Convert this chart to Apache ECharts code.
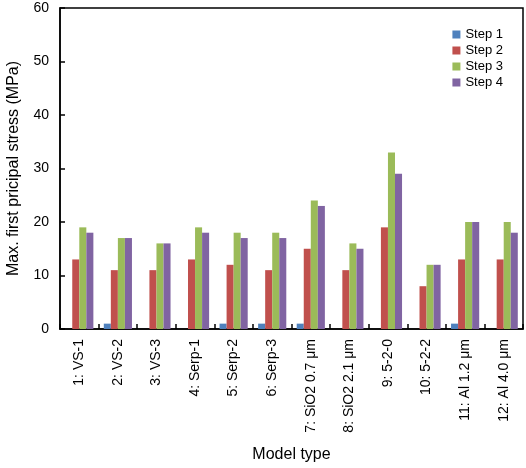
<!DOCTYPE html>
<html>
<head>
<meta charset="utf-8">
<script src="https://cdn.jsdelivr.net/npm/echarts@6/dist/echarts.min.js"></script>
<style>html,body{margin:0;padding:0;background:#fff}#c{width:526px;height:468px}</style>
</head>
<body>
<div id="c"></div>
<script>
const categories = ['1: VS-1','2: VS-2','3: VS-3','4: Serp-1','5: Serp-2','6: Serp-3','7: SiO2 0.7 μm','8: SiO2 2.1 μm','9: 5-2-0','10: 5-2-2','11: Al 1.2 μm','12: Al 4.0 μm'];
const step1 = [0, 1, 0, 0, 1, 1, 1, 0, 0, 0, 1, 0];
const step2 = [13, 11, 11, 13, 12, 11, 15, 11, 19, 8, 13, 13];
const step3 = [19, 17, 16, 19, 18, 18, 24, 16, 33, 12, 20, 20];
const step4 = [18, 17, 16, 18, 17, 17, 23, 15, 29, 12, 20, 18];
const seriesNames = ['Step 1','Step 2','Step 3','Step 4'];
const yTicks = [0, 10, 20, 30, 40, 50, 60];

const colors = ['#4F81BD','#C0504D','#9BBB59','#8064A2'];
const font = 'Liberation Sans, Arial, sans-serif';
const chart = echarts.init(document.getElementById('c'));
const data = [step1, step2, step3, step4];
chart.setOption({
  animation: false,
  color: colors,
  grid: {left: 60, right: 3, top: 8, bottom: 139, show: true, borderColor: '#000', borderWidth: 1.5, containLabel: false, outerBoundsMode: 'none'},
  legend: {
    orient: 'vertical', right: 18, top: 23,
    itemWidth: 8, itemHeight: 8, itemGap: 3,
    textStyle: {fontFamily: font, fontSize: 13, color: '#000'},
    icon: 'rect',
    data: seriesNames
  },
  xAxis: {
    type: 'category', data: categories,
    name: 'Model type', nameLocation: 'middle', nameGap: 118,
    nameTextStyle: {fontFamily: font, fontSize: 16, color: '#000'},
    axisLine: {lineStyle: {color: '#000', width: 1.5}},
    axisTick: {show: true, inside: true, length: 5, alignWithLabel: false, lineStyle: {color: '#000', width: 1.5}},
    axisLabel: {rotate: 90, fontFamily: font, fontSize: 14, color: '#000', margin: 10, interval: 0}
  },
  yAxis: {
    type: 'value', min: yTicks[0], max: yTicks[yTicks.length-1], interval: 10,
    name: 'Max. first pricipal stress (MPa)', nameLocation: 'middle', nameGap: 38,
    nameTextStyle: {fontFamily: font, fontSize: 16, color: '#000'},
    splitLine: {show: false},
    axisLine: {show: true, lineStyle: {color: '#000', width: 1.5}},
    axisTick: {show: true, inside: true, length: 5, lineStyle: {color: '#000', width: 1.5}},
    axisLabel: {fontFamily: font, fontSize: 14, color: '#000', margin: 11}
  },
  series: seriesNames.map((n, i) => ({
    name: n, type: 'bar', data: data[i],
    barGap: '0%', barCategoryGap: '27%'
  }))
});
</script>
</body>
</html>
